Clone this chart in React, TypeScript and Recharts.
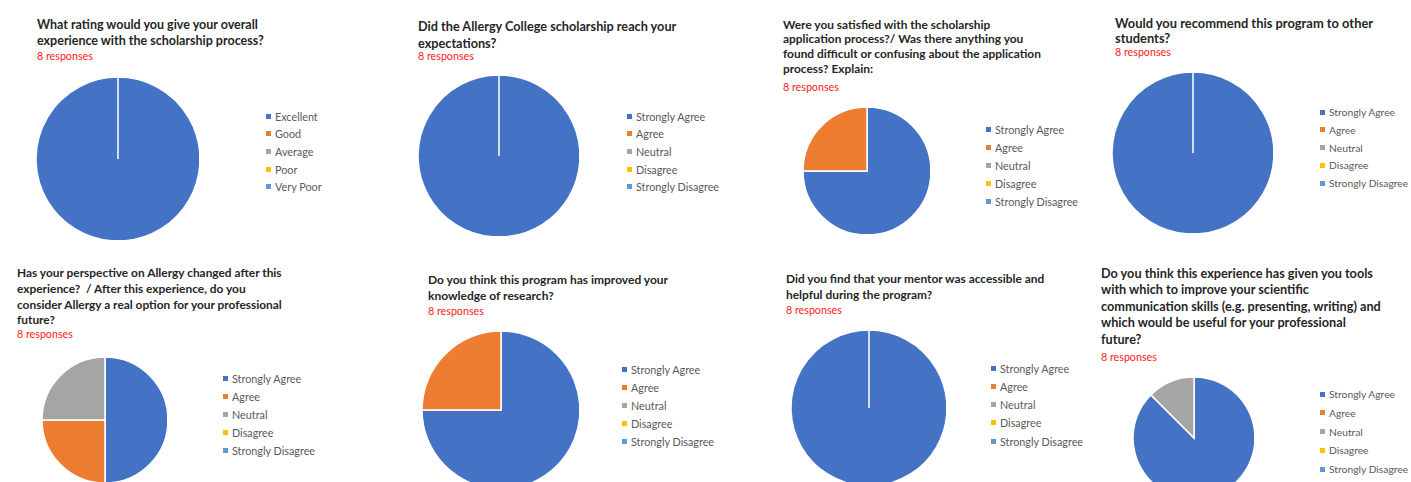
import { PieChart, Pie, Cell } from "recharts";

// survey answers, 8 responses per question
const ratingLabels = ["Excellent", "Good", "Average", "Poor", "Very Poor"];
const agreeLabels = ["Strongly Agree", "Agree", "Neutral", "Disagree", "Strongly Disagree"];

const ratingCounts = [8, 0, 0, 0, 0];
const expectationCounts = [8, 0, 0, 0, 0];
const applicationCounts = [6, 2, 0, 0, 0];
const recommendCounts = [8, 0, 0, 0, 0];
const perspectiveCounts = [4, 2, 2, 0, 0];
const researchCounts = [6, 2, 0, 0, 0];
const mentorCounts = [8, 0, 0, 0, 0];
const communicationCounts = [7, 0, 1, 0, 0];

const questions = [
  "What rating would you give your overall\nexperience with the scholarship process?",
  "Did the Allergy College scholarship reach your\nexpectations?",
  "Were you satisfied with the scholarship\napplication process?/ Was there anything you\nfound difficult or confusing about the application\nprocess? Explain:",
  "Would you recommend this program to other\nstudents?",
  "Has your perspective on Allergy changed after this\nexperience?  / After this experience, do you\nconsider Allergy a real option for your professional\nfuture?",
  "Do you think this program has improved your\nknowledge of research?",
  "Did you find that your mentor was accessible and\nhelpful during the program?",
  "Do you think this experience has given you tools\nwith which to improve your scientific\ncommunication skills (e.g. presenting, writing) and\nwhich would be useful for your professional\nfuture?",
];

const responsesLabel = "8 responses";

const COLORS = ["#4472C4", "#ED7D31", "#A5A5A5", "#FFC000", "#5B9BD5"];

type Layout = {
  tx: number; ty: number; lh: number; fs: number; ry: number;
  cx: number; cy: number; r: number;
  lx: number; ly: number; ls: number; lfs: number;
};

const layouts: Layout[] = [
  { tx: 37, ty: 25, lh: 16.5, fs: 12.5, ry: 56, cx: 113, cy: 154, r: 82, lx: 266, ly: 116, ls: 17.7, lfs: 10.8 },
  { tx: 418, ty: 26, lh: 17, fs: 12.7, ry: 56, cx: 494, cy: 151, r: 81, lx: 627, ly: 116, ls: 17.7, lfs: 10.8 },
  { tx: 783, ty: 25, lh: 14.7, fs: 11.9, ry: 87, cx: 862, cy: 166, r: 64, lx: 986, ly: 129, ls: 18.2, lfs: 10.8 },
  { tx: 1115, ty: 23, lh: 15, fs: 12.9, ry: 52, cx: 1188, cy: 148, r: 81, lx: 1320, ly: 112, ls: 17.8, lfs: 10.3 },
  { tx: 17, ty: 273, lh: 15.7, fs: 11.9, ry: 334, cx: 100, cy: 415, r: 63, lx: 223, ly: 378, ls: 18, lfs: 10.8 },
  { tx: 428, ty: 280, lh: 16, fs: 12, ry: 311, cx: 496, cy: 405, r: 79, lx: 622, ly: 369, ls: 18, lfs: 10.8 },
  { tx: 786, ty: 279, lh: 16, fs: 11.9, ry: 310, cx: 864, cy: 403, r: 78, lx: 991, ly: 368, ls: 18.3, lfs: 10.8 },
  { tx: 1101, ty: 273, lh: 16.5, fs: 12.7, ry: 357, cx: 1189, cy: 433, r: 61, lx: 1320, ly: 394, ls: 18.8, lfs: 10.3 },
];

const panels = [
  { labels: ratingLabels, counts: ratingCounts },
  { labels: agreeLabels, counts: expectationCounts },
  { labels: agreeLabels, counts: applicationCounts },
  { labels: agreeLabels, counts: recommendCounts },
  { labels: agreeLabels, counts: perspectiveCounts },
  { labels: agreeLabels, counts: researchCounts },
  { labels: agreeLabels, counts: mentorCounts },
  { labels: agreeLabels, counts: communicationCounts },
];

const FONT = "Lato, 'Open Sans', sans-serif";

function SurveyPie({ idx }: { idx: number }) {
  const L = layouts[idx];
  const { labels, counts } = panels[idx];
  const data = labels
    .map((name, i) => ({ name, value: counts[i], color: COLORS[i] }))
    .filter((d) => d.value > 0);
  const box = L.r + 4;
  return (
    <>
      <div
        style={{
          position: "absolute",
          left: L.tx,
          top: L.ty - L.lh / 2,
          fontSize: L.fs,
          lineHeight: `${L.lh}px`,
          fontWeight: 700,
          color: "#262626",
          whiteSpace: "pre",
        }}
      >
        {questions[idx]}
      </div>
      <div
        style={{
          position: "absolute",
          left: L.tx,
          top: L.ry - 7,
          fontSize: 10.7,
          lineHeight: "14px",
          color: "#FF2020",
          whiteSpace: "pre",
        }}
      >
        {responsesLabel}
      </div>
      <div style={{ position: "absolute", left: L.cx - box, top: L.cy - box }}>
        <PieChart width={box * 2} height={box * 2}>
          <Pie
            data={data}
            dataKey="value"
            nameKey="name"
            cx={box}
            cy={box}
            outerRadius={L.r}
            startAngle={90}
            endAngle={-270}
            stroke="#ffffff"
            strokeWidth={1.5}
            isAnimationActive={false}
          >
            {data.map((d) => (
              <Cell key={d.name} fill={d.color} />
            ))}
          </Pie>
        </PieChart>
      </div>
      {labels.map((name, i) => (
        <div
          key={name}
          style={{
            position: "absolute",
            left: L.lx,
            top: L.ly + i * L.ls - 7,
            height: 14,
            display: "flex",
            alignItems: "center",
            fontSize: L.lfs,
            color: "#595959",
            whiteSpace: "pre",
          }}
        >
          <span
            style={{
              display: "inline-block",
              width: 5,
              height: 5,
              background: COLORS[i],
              marginRight: 4,
            }}
          />
          {name}
        </div>
      ))}
    </>
  );
}

export default function App() {
  return (
    <div
      style={{
        position: "absolute",
        left: 0,
        top: 0,
        width: 1411,
        height: 482,
        overflow: "hidden",
        background: "#ffffff",
        fontFamily: FONT,
      }}
    >
      {panels.map((_, i) => (
        <SurveyPie key={i} idx={i} />
      ))}
    </div>
  );
}
